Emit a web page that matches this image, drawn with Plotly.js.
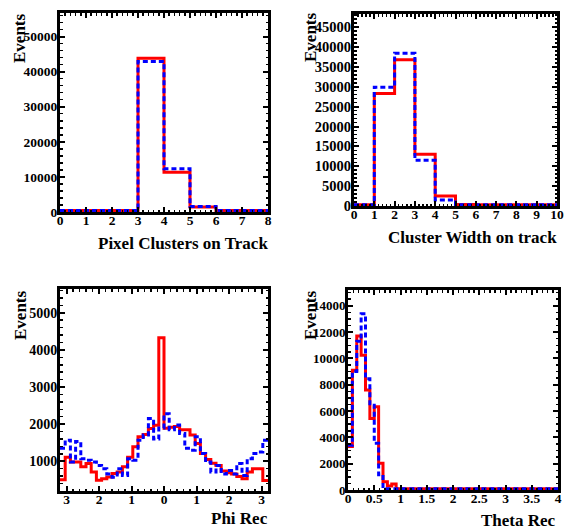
<!DOCTYPE html>
<html><head><meta charset="utf-8">
<script src="https://cdn.plot.ly/plotly-3.0.1.min.js"></script>
<style>html,body{margin:0;padding:0;background:#fff;}#plot{width:567px;height:530px;}</style>
</head><body><div id="plot"></div>
<script>
// ---------- Data ----------
// Pixel Clusters on Track: bins of width 1 from 0 to 8
const pixStart = 0, pixWidth = 1;
const pixRed  = [400, 400, 400, 43800, 11300, 1450, 400, 400];
const pixBlue = [400, 400, 400, 42900, 12300, 1550, 400, 400];

// Cluster Width on track: bins of width 1 from 0 to 10
const cwStart = 0, cwWidth = 1;
const cwRed  = [300, 28300, 36800, 13000, 2500, 400, 300, 300, 300, 300];
const cwBlue = [300, 29900, 38400, 11500, 1500, 300, 300, 300, 300, 300];

// Phi Rec: 40 bins from -3.2 to 3.2
const phiStart = -3.2, phiWidth = 0.16;
const phiRed = [500, 1110, 980, 980, 850, 940, 710, 490, 530, 580,
                670, 710, 850, 1110, 1390, 1660, 1720, 1880, 1970, 4330,
                1890, 1920, 1940, 1850, 1850, 1710, 1480, 1210, 1050, 950,
                890, 740, 690, 660, 590, 530, 710, 800, 800, 480];
const phiBlue = [1350, 1570, 980, 1530, 1070, 1030, 980, 890, 800, 660,
                 570, 800, 620, 1070, 1030, 1570, 1710, 2150, 1600, 1900,
                 2280, 1850, 1980, 1750, 1350, 1300, 1660, 1210, 980, 710,
                 890, 660, 750, 660, 940, 620, 1070, 1210, 1250, 1570];

// Theta Rec: 48 bins from 0 to 4
const thStart = 0, thWidth = 1/12;
const thRed = [3300, 9100, 11700, 10250, 7600, 5440, 6330, 2030, 630, 300,
               460, 100, 100, 100, 100, 100, 100, 100, 100, 100,
               100, 100, 100, 100, 100, 100, 100, 100, 100, 100,
               100, 100, 100, 100, 100, 100, 100, 100, 100, 100,
               100, 100, 100, 100, 100, 100, 100, 100];
const thBlue = [3400, 9000, 11300, 13400, 8450, 6550, 3550, 1150, 100, 100,
                100, 100, 100, 100, 100, 100, 100, 100, 100, 100,
                100, 100, 100, 100, 100, 100, 100, 100, 100, 100,
                100, 100, 100, 100, 100, 100, 100, 100, 100, 100,
                100, 100, 100, 100, 100, 100, 100, 100];

// ---------- Tick labels ----------
const pixXTicks = [0, 1, 2, 3, 4, 5, 6, 7, 8];
const pixXText  = ['0', '1', '2', '3', '4', '5', '6', '7', '8'];
const pixYTicks = [0, 10000, 20000, 30000, 40000, 50000];
const pixYText  = ['0', '10000', '20000', '30000', '40000', '50000'];
const cwXTicks = [0, 1, 2, 3, 4, 5, 6, 7, 8, 9, 10];
const cwXText  = ['0', '1', '2', '3', '4', '5', '6', '7', '8', '9', '10'];
const cwYTicks = [0, 5000, 10000, 15000, 20000, 25000, 30000, 35000, 40000, 45000];
const cwYText  = ['0', '5000', '10000', '15000', '20000', '25000', '30000', '35000', '40000', '45000'];
const phiXTicks = [-3, -2, -1, 0, 1, 2, 3];
const phiXText  = ['3', '2', '1', '0', '1', '2', '3'];
const phiYTicks = [1000, 2000, 3000, 4000, 5000];
const phiYText  = ['1000', '2000', '3000', '4000', '5000'];
const thXTicks = [0, 0.5, 1, 1.5, 2, 2.5, 3, 3.5, 4];
const thXText  = ['0', '0.5', '1', '1.5', '2', '2.5', '3', '3.5', '4'];
const thYTicks = [0, 2000, 4000, 6000, 8000, 10000, 12000, 14000];
const thYText  = ['0', '2000', '4000', '6000', '8000', '10000', '12000', '14000'];

// ---------- Helpers ----------
function step(start, width, vals, color, dash, xa, ya) {
  const x = [], y = [];
  for (let i = 0; i < vals.length; i++) { x.push(start + i * width); y.push(vals[i]); }
  x.push(start + vals.length * width); y.push(vals[vals.length - 1]);
  return {type: 'scatter', mode: 'lines', x: x, y: y, xaxis: xa, yaxis: ya,
          line: {shape: 'hv', color: color, width: 3, dash: dash}, hoverinfo: 'skip', showlegend: false};
}
const RED = '#ff0000', BLUE = '#0000ff', DASH = '5px,3px';
const FONT = 'Liberation Serif, Times New Roman, serif';

const data = [
  step(pixStart, pixWidth, pixRed, RED, 'solid', 'x', 'y'),
  step(pixStart, pixWidth, pixBlue, BLUE, DASH, 'x', 'y'),
  step(cwStart, cwWidth, cwRed, RED, 'solid', 'x2', 'y2'),
  step(cwStart, cwWidth, cwBlue, BLUE, DASH, 'x2', 'y2'),
  step(phiStart, phiWidth, phiRed, RED, 'solid', 'x3', 'y3'),
  step(phiStart, phiWidth, phiBlue, BLUE, DASH, 'x3', 'y3'),
  step(thStart, thWidth, thRed, RED, 'solid', 'x4', 'y4'),
  step(thStart, thWidth, thBlue, BLUE, DASH, 'x4', 'y4')
];

function mn(d, t0) {
  return {ticks: 'inside', ticklen: 2.5, tickwidth: 1.5, tickcolor: 'black', showgrid: false,
          tickmode: 'linear', tick0: t0 || 0, dtick: d};
}
function ax(extra, vals, text, isX, size) {
  return Object.assign({
    showline: true, linewidth: 3, linecolor: 'black', mirror: 'allticks',
    ticks: 'inside', ticklen: 5, tickwidth: 2, tickcolor: 'black',
    showgrid: false, zeroline: false, fixedrange: true,
    tickmode: 'array', tickvals: vals, ticktext: text.map(t => '<b>' + t + '</b>'),
    ticklabelstandoff: isX ? -6 : -3,
    tickfont: {family: FONT, size: size, weight: 'bold', color: 'black'}
  }, extra);
}
function fx(px) { return px / 567; }
function fy(py) { return 1 - py / 530; }

const layout = {
  width: 567, height: 530, margin: {l: 0, r: 0, t: 0, b: 0},
  paper_bgcolor: 'white', plot_bgcolor: 'white', showlegend: false,
  xaxis:  ax({domain: [fx(60), fx(268)], anchor: 'y', range: [0, 8], minor: mn(0.2)}, pixXTicks, pixXText, true, 13.5),
  yaxis:  ax({domain: [fy(212), fy(13)], anchor: 'x', range: [0, 56700], minor: mn(2000)}, pixYTicks, pixYText, false, 13.5),
  xaxis2: ax({domain: [fx(354), fx(557)], anchor: 'y2', range: [0, 10], minor: mn(0.2)}, cwXTicks, cwXText, true, 13.5),
  yaxis2: ax({domain: [fy(206), fy(14)], anchor: 'x2', range: [0, 48300], minor: mn(1000)}, cwYTicks, cwYText, false, 14.5),
  xaxis3: ax({domain: [fx(60), fx(268)], anchor: 'y3', range: [-3.2, 3.2], minor: mn(0.2)}, phiXTicks, phiXText, true, 13.5),
  yaxis3: ax({domain: [fy(491), fy(289)], anchor: 'x3', range: [200, 5640], minor: mn(200)}, phiYTicks, phiYText, false, 14),
  xaxis4: ax({domain: [fx(348), fx(558)], anchor: 'y4', range: [0, 4], minor: mn(0.1)}, thXTicks, thXText, true, 13.5),
  yaxis4: ax({domain: [fy(490), fy(290)], anchor: 'x4', range: [0, 15200], minor: mn(500)}, thYTicks, thYText, false, 13),
  annotations: []
};

const tfont = {family: FONT, size: 17, weight: 'bold', color: 'black'};
function xt(text, xr, yc) {
  layout.annotations.push({text: '<b>' + text + '</b>', xref: 'paper', yref: 'paper', x: fx(xr), y: fy(yc),
    xanchor: 'right', yanchor: 'middle', showarrow: false, font: tfont});
}
function yt(text, xc, yc) {
  layout.annotations.push({text: '<b>' + text + '</b>', xref: 'paper', yref: 'paper', x: fx(xc), y: fy(yc),
    xanchor: 'center', yanchor: 'middle', showarrow: false, textangle: -90, font: tfont});
}
xt('Pixel Clusters on Track', 270, 243);
xt('Cluster Width on track', 559, 237);
xt('Phi Rec', 270, 518);
xt('Theta Rec', 558, 520);
yt('Events', 20, 38);
yt('Events', 311, 37);
yt('Events', 20, 315);
yt('Events', 310, 315);

Plotly.newPlot('plot', data, layout, {staticPlot: true, displayModeBar: false});
</script></body></html>
